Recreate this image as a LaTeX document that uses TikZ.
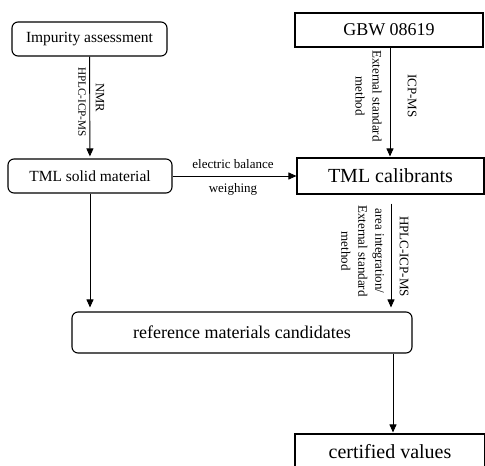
\documentclass[tikz,border=0pt]{standalone}
\usepackage{fontspec}
\setmainfont{Liberation Serif}
\usetikzlibrary{arrows.meta, positioning, calc}

\begin{document}
\begin{tikzpicture}[x=1pt, y=-1pt,
    roundbox/.style={draw=black, line width=1.1pt, rounded corners=6pt, inner sep=0pt},
    squarebox/.style={draw=black, line width=1.1pt, inner sep=0pt},
    arrow/.style={-{Triangle[length=8pt, width=7pt]}, line width=0.9pt},
    midfont/.style={font=\fontsize{15.5}{18}\selectfont},
    bigfont/.style={font=\fontsize{20}{24}\selectfont},
    vlabel/.style={rotate=-90, align=center, font=\fontsize{13}{17}\selectfont, inner sep=0pt},
    hlabel/.style={font=\fontsize{13}{16}\selectfont, inner sep=0pt}
]
\useasboundingbox (0,0) rectangle (485,466);
\clip (0,0) rectangle (485,466);

% ===== BOXES =====
\node[roundbox, midfont, minimum width=155pt, minimum height=34pt] (imp) at (89.5,39) {Impurity assessment};
\node[squarebox, font=\fontsize{18}{22}\selectfont, minimum width=188pt, minimum height=34pt] (gbw) at (389,30) {GBW 08619};
\node[roundbox, midfont, minimum width=164pt, minimum height=34pt] (tml) at (90,176) {TML solid material};
\node[squarebox, bigfont, minimum width=187pt, minimum height=36pt] (cal) at (390.5,176) {TML calibrants};
\node[roundbox, font=\fontsize{18}{22}\selectfont, minimum width=340pt, minimum height=41pt] (ref) at (242,332.5) {reference materials candidates};
\node[squarebox, bigfont, minimum width=190pt, minimum height=36pt] (cert) at (390,452) {certified values};

% ===== CONNECTORS =====
\draw[arrow, shorten >=2pt] (imp) -- (tml);
\draw[arrow, shorten >=1pt] (gbw.south -| 390,0) -- (cal.north -| 390,0);
\draw[arrow] (tml) -- (cal);
\draw[arrow, shorten >=4pt] (tml.south) -- (tml.south |- ref.north);
\draw[arrow, shorten <=9pt, shorten >=4pt] (cal.south -| 391,0) -- (ref.north -| 391,0);
\draw[arrow, shorten >=1pt] (ref.south -| 393,0) -- (cert.north -| 393,0);

% ===== LABELS =====
\node[vlabel, font=\fontsize{11.2}{14}\selectfont] (lhplc) at (82,102) {HPLC-ICP-MS};
\node[vlabel, font=\fontsize{12.7}{15}\selectfont] (lnmr) at (100,97.5) {NMR};
\node[vlabel] (lext) at (368.5,96) {External standard\\method};
\node[vlabel] (licp) at (412,96) {ICP-MS};
\node[hlabel] (lbal) at (233,164) {electric balance};
\node[hlabel] (lweigh) at (233,189) {weighing};
\node[vlabel] (larea) at (362.5,251) {area integration/\\External standard\\method};
\node[vlabel] (lhplc2) at (404,256.5) {HPLC-ICP-MS};

\end{tikzpicture}
\end{document}
